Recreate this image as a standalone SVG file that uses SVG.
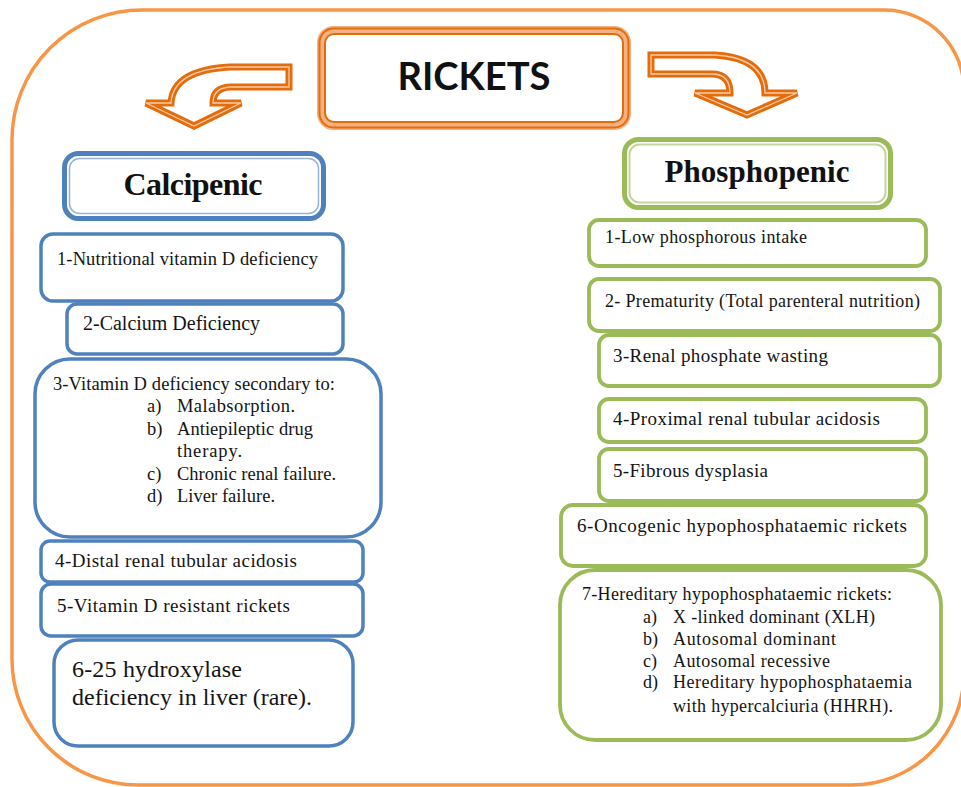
<svg xmlns="http://www.w3.org/2000/svg" width="961" height="787" viewBox="0 0 961 787">
<style>
  .bg { fill: #ffffff; }
  .frame { fill: none; stroke: #F79646; stroke-width: 3.5; }
  .arrow { fill: #ffffff; stroke: #E46C0A; stroke-width: 7; stroke-linejoin: miter; }
  .arrowin { fill: none; stroke: #F8CBAD; stroke-width: 1.3; stroke-linejoin: miter; }
  .tlight { fill: #ffffff; stroke: #F4B183; stroke-width: 9; }
  .tdark { fill: none; stroke: #E46C0A; stroke-width: 2; }
  .blue { fill: #ffffff; stroke: #4F81BD; stroke-width: 3.5; }
  .blueHead { fill: #ffffff; stroke: #4F81BD; stroke-width: 5; }
  .blueIn { fill: none; stroke: #95B3D7; stroke-width: 1.5; }
  .green { fill: #ffffff; stroke: #9BBB59; stroke-width: 3.8; }
  .greenHead { fill: #ffffff; stroke: #9BBB59; stroke-width: 5; }
  .greenIn { fill: none; stroke: #C3D69B; stroke-width: 2; }
  .t { font-family: "Liberation Serif", "Times New Roman", serif; fill: #141414; }
  .hd { font-family: "Liberation Serif", "Times New Roman", serif; font-weight: bold; fill: #111111; text-anchor: middle; }
  .title { font-family: Lato, "Open Sans", "Liberation Sans", sans-serif; font-weight: bold; fill: #111111; text-anchor: middle; }
</style>
<rect class="bg" x="0" y="0" width="961" height="787"/>
<path class="frame" d="M 142,10 H 884 A 80 80 0 0 1 964 90 V 673 A 112 112 0 0 1 852 785 H 138 A 126 126 0 0 1 12 659 V 140 A 130 130 0 0 1 142 10 Z"/>

<g id="connectors">
  <path class="arrow" d="M 289,67 L 230,67 Q 173,70 171,103 L 146,103 L 194,126 L 241,103 L 213,103 Q 213,88 230,87 L 289,87 Z"/>
  <path class="arrowin" d="M 289,67 L 230,67 Q 173,70 171,103 L 146,103 L 194,126 L 241,103 L 213,103 Q 213,88 230,87 L 289,87 Z"/>
  <path class="arrow" d="M 651,55 L 715,55 Q 765,58 765,93 L 797,93 L 747,115 L 695,93 L 730,93 Q 730,74 712,74 L 651,74 Z"/>
  <path class="arrowin" d="M 651,55 L 715,55 Q 765,58 765,93 L 797,93 L 747,115 L 695,93 L 730,93 Q 730,74 712,74 L 651,74 Z"/>
</g>

<g id="rickets">
  <rect class="tlight" x="321.5" y="30.5" width="305" height="95" rx="12"/>
  <rect class="tdark" x="319.5" y="28.5" width="309" height="99" rx="14"/>
  <rect class="tdark" x="325" y="34" width="298" height="88" rx="9"/>
  <text class="title" x="474" y="90" font-size="38" textLength="153" lengthAdjust="spacingAndGlyphs">RICKETS</text>
</g>

<g id="calcipenic">
  <rect class="blueHead" x="64.5" y="153.5" width="259" height="65" rx="14"/>
  <rect class="blueIn" x="69.5" y="158.5" width="249" height="55" rx="10"/>
  <text class="hd" x="193" y="195" font-size="32" textLength="139">Calcipenic</text>
</g>

<g id="c1">
  <rect class="blue" x="41" y="234" width="302" height="67" rx="12"/>
  <text class="t" x="57" y="265" font-size="18.5" textLength="261">1-Nutritional vitamin D deficiency</text>
</g>
<g id="c2">
  <rect class="blue" x="67" y="304" width="276" height="50" rx="10"/>
  <text class="t" x="83" y="330" font-size="20" textLength="177">2-Calcium Deficiency</text>
</g>
<g id="c3">
  <rect class="blue" x="35" y="359" width="346" height="178" rx="35"/>
  <text class="t" x="53" y="390" font-size="18.5" textLength="282">3-Vitamin D deficiency secondary to:</text>
  <text class="t" x="147" y="412" font-size="18.5">a)</text>
  <text class="t" x="177" y="412" font-size="18.5" textLength="118">Malabsorption.</text>
  <text class="t" x="147" y="435" font-size="18.5">b)</text>
  <text class="t" x="177" y="435" font-size="18.5" textLength="136">Antiepileptic drug</text>
  <text class="t" x="177" y="457" font-size="18.5" textLength="65">therapy.</text>
  <text class="t" x="147" y="480" font-size="18.5">c)</text>
  <text class="t" x="177" y="480" font-size="18.5" textLength="159">Chronic renal failure.</text>
  <text class="t" x="147" y="502" font-size="18.5">d)</text>
  <text class="t" x="177" y="502" font-size="18.5" textLength="98">Liver failure.</text>
</g>
<g id="c4">
  <rect class="blue" x="41" y="541" width="322" height="41" rx="9"/>
  <text class="t" x="55" y="567" font-size="19" textLength="242">4-Distal renal tubular acidosis</text>
</g>
<g id="c5">
  <rect class="blue" x="41" y="584" width="322" height="52" rx="10"/>
  <text class="t" x="57" y="612" font-size="19" textLength="233">5-Vitamin D resistant rickets</text>
</g>
<g id="c6">
  <rect class="blue" x="54" y="640" width="299" height="106" rx="24"/>
  <text class="t" x="72" y="677" font-size="24" textLength="170">6-25 hydroxylase</text>
  <text class="t" x="72" y="705" font-size="24" textLength="240">deficiency in liver (rare).</text>
</g>

<g id="phosphopenic">
  <rect class="greenHead" x="624.5" y="139.5" width="266" height="68" rx="14"/>
  <rect class="greenIn" x="629.5" y="144.5" width="256" height="58" rx="10"/>
  <text class="hd" x="757" y="182" font-size="31" textLength="185">Phosphopenic</text>
</g>

<g id="p1">
  <rect class="green" x="589" y="220" width="337" height="46" rx="10"/>
  <text class="t" x="605" y="243" font-size="18" textLength="202">1-Low phosphorous intake</text>
</g>
<g id="p2">
  <rect class="green" x="589" y="279" width="351" height="52" rx="10"/>
  <text class="t" x="605" y="307" font-size="18" textLength="315">2- Prematurity (Total parenteral nutrition)</text>
</g>
<g id="p3">
  <rect class="green" x="599" y="335" width="341" height="51" rx="10"/>
  <text class="t" x="613" y="362" font-size="19" textLength="215">3-Renal phosphate wasting</text>
</g>
<g id="p4">
  <rect class="green" x="599" y="399" width="327" height="43" rx="10"/>
  <text class="t" x="613" y="425" font-size="19" textLength="267">4-Proximal renal tubular acidosis</text>
</g>
<g id="p5">
  <rect class="green" x="599" y="449" width="327" height="52" rx="10"/>
  <text class="t" x="613" y="477" font-size="19" textLength="155">5-Fibrous dysplasia</text>
</g>
<g id="p6">
  <rect class="green" x="561" y="505" width="365" height="61" rx="12"/>
  <text class="t" x="577" y="532" font-size="19" textLength="330">6-Oncogenic hypophosphataemic rickets</text>
</g>
<g id="p7">
  <rect class="green" x="560" y="570" width="381" height="170" rx="35"/>
  <text class="t" x="582" y="600" font-size="18" textLength="310">7-Hereditary hypophosphataemic rickets:</text>
  <text class="t" x="643" y="623" font-size="18">a)</text>
  <text class="t" x="673" y="623" font-size="18" textLength="202">X -linked dominant (XLH)</text>
  <text class="t" x="643" y="645" font-size="18">b)</text>
  <text class="t" x="673" y="645" font-size="18" textLength="163">Autosomal dominant</text>
  <text class="t" x="643" y="667" font-size="18">c)</text>
  <text class="t" x="673" y="667" font-size="18" textLength="157">Autosomal recessive</text>
  <text class="t" x="643" y="688" font-size="18">d)</text>
  <text class="t" x="673" y="688" font-size="18" textLength="239">Hereditary hypophosphataemia</text>
  <text class="t" x="673" y="712" font-size="18" textLength="220">with hypercalciuria (HHRH).</text>
</g>
</svg>
